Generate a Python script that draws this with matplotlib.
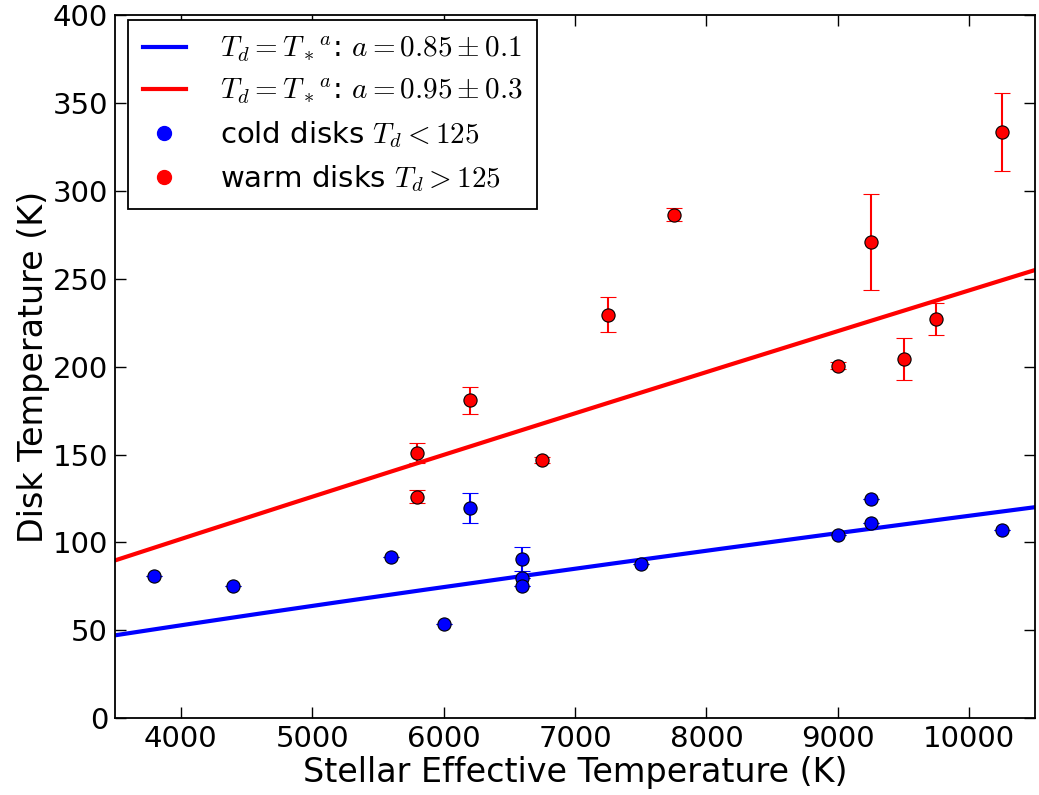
import numpy as np
import matplotlib
matplotlib.use("Agg")
import matplotlib.pyplot as plt
from matplotlib.lines import Line2D

# ---- cold disks (T_d < 125 K) ----
cold_teff = [3800, 4400, 5600, 6000, 6200, 6600, 6600, 6600, 7500, 9000, 9250, 9250, 10250]
cold_td = [81, 75.5, 91.5, 53.5, 119.5, 90.5, 80, 75, 88, 104.5, 124.5, 111, 107]
cold_err = [0, 0, 0, 0, 8.4, 7, 0, 0, 0, 0, 0, 0, 0]

# ---- warm disks (T_d > 125 K) ----
warm_teff = [5800, 5800, 6200, 6750, 7250, 7750, 9000, 9250, 9500, 9750, 10250]
warm_td = [151, 126, 181, 147, 229.5, 286.5, 200.5, 271, 204.5, 227, 333.5]
warm_err = [5.7, 3.6, 7.7, 1.5, 10, 3.6, 2, 27.3, 12, 9, 22]

# power-law fits T_d = c * T_*^a, normalised at 3500 K
fit_a = [0.85, 0.95]
fit_td0 = [47.2, 89.8]
fit_labels = [r'$T_d = T_*{}^a$: $a = 0.85 \pm 0.1$',
              r'$T_d = T_*{}^a$: $a = 0.95 \pm 0.3$']
fit_colors = ['blue', 'red']

plt.rcParams['mathtext.fontset'] = 'cm'
plt.rcParams['font.family'] = 'DejaVu Sans'
plt.rcParams['font.size'] = 21

fig = plt.figure(figsize=(10.39, 7.95), dpi=100)
ax = fig.add_axes([0.1107, 0.0965, 0.8855, 0.8845])

teff = np.linspace(3500, 10500, 200)
for a, td0, col in zip(fit_a, fit_td0, fit_colors):
    ax.plot(teff, td0 * (teff / 3500.0) ** a, color=col, lw=3, zorder=2)

for x, y, e, col in [(cold_teff, cold_td, cold_err, 'blue'),
                     (warm_teff, warm_td, warm_err, 'red')]:
    ax.errorbar(x, y, yerr=e, fmt='o', color=col, ecolor=col, mec='black',
                mew=0.8, ms=9.5, elinewidth=1.5, capsize=6, capthick=1.5, zorder=3)

ax.set_xlim(3500, 10500)
ax.set_ylim(0, 400)
ax.set_xticks(range(4000, 10001, 1000))
ax.set_yticks(range(0, 401, 50))
ax.tick_params(direction='in', length=8, width=1, top=True, right=True,
               labelsize=21, pad=5)
for s in ax.spines.values():
    s.set_linewidth(1.3)

ax.set_xlabel('Stellar Effective Temperature (K)', fontsize=24, labelpad=2)
ax.set_ylabel('Disk Temperature (K)', fontsize=24, labelpad=2)

handles = [Line2D([], [], color=c, lw=3) for c in fit_colors]
handles += [Line2D([], [], ls='', marker='o', color='blue', ms=10),
            Line2D([], [], ls='', marker='o', color='red', ms=10)]
labels = fit_labels + [r'cold disks $T_d < 125$', r'warm disks $T_d > 125$']
leg = ax.legend(handles, labels, loc='upper left', fontsize=21, fancybox=False,
                framealpha=1, edgecolor='black', borderaxespad=0,
                bbox_to_anchor=(13 / 920, 1 - 5 / 704),
                handlelength=1.5, handletextpad=1.15, labelspacing=0.45,
                borderpad=0.5)
leg.get_frame().set_linewidth(1.3)

fig.savefig('out.png', dpi=100)
